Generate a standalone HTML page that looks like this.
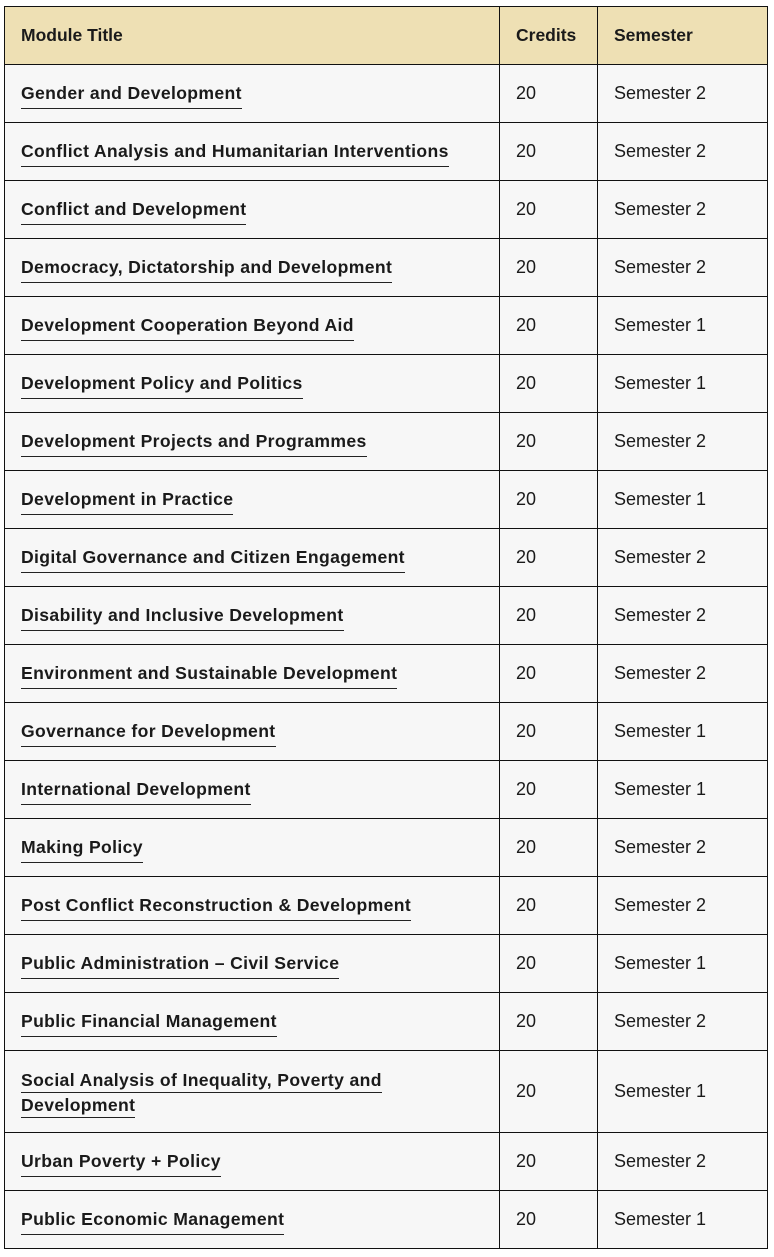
<!DOCTYPE html>
<html><head><meta charset="utf-8"><style>
body{margin:0;background:#fff;width:774px;height:1257px;position:relative;font-family:"Liberation Sans",sans-serif;color:#1a1a1a}
.r{position:absolute;left:4px;width:764px;border:1px solid #111;border-top:none;box-sizing:border-box;background:#f7f7f7}
.h{background:#eee0b4;border-top:1px solid #111}
.c{position:absolute;top:0;bottom:0;display:flex;align-items:center}
.c1{left:16px;width:475px;padding-top:3px;box-sizing:border-box}
.c2{left:494px;width:98px;border-left:1px solid #111;padding-left:16px;box-sizing:border-box}
.c3{left:592px;right:0;border-left:1px solid #111;padding-left:16px;box-sizing:border-box}
.t{font-weight:bold;font-size:17.6px;line-height:25px;letter-spacing:0.35px}
.t span{border-bottom:1px solid #222;padding-bottom:2px}
.n{font-size:18px}
.hd{font-weight:bold;font-size:17.5px}
</style></head><body>
<div class="r h" style="top:6px;height:59px"><div class="c c1 hd" style="padding-top:0">Module Title</div><div class="c c2 hd">Credits</div><div class="c c3 hd">Semester</div></div>
<div id="rows"></div>
<script>
var d=[["Gender and Development",2],["Conflict Analysis and Humanitarian Interventions",2],["Conflict and Development",2],["Democracy, Dictatorship and Development",2],["Development Cooperation Beyond Aid",1],["Development Policy and Politics",1],["Development Projects and Programmes",2],["Development in Practice",1],["Digital Governance and Citizen Engagement",2],["Disability and Inclusive Development",2],["Environment and Sustainable Development",2],["Governance for Development",1],["International Development",1],["Making Policy",2],["Post Conflict Reconstruction &amp; Development",2],["Public Administration – Civil Service",1],["Public Financial Management",2],["Social Analysis of Inequality, Poverty and<br>Development",1,1],["Urban Poverty + Policy",2],["Public Economic Management",1]];
var y=65,h="";
d.forEach(function(r){var ht=r[2]?82:58;
var title=r[2]?'<div><span>Social Analysis of Inequality, Poverty and</span><br><span>Development</span></div>':'<span>'+r[0]+'</span>';
h+='<div class="r" style="top:'+y+'px;height:'+ht+'px"><div class="c c1 t">'+title+'</div><div class="c c2 n">20</div><div class="c c3 n">Semester '+r[1]+'</div></div>';y+=ht;});
document.getElementById("rows").innerHTML=h;
</script>
</body></html>
